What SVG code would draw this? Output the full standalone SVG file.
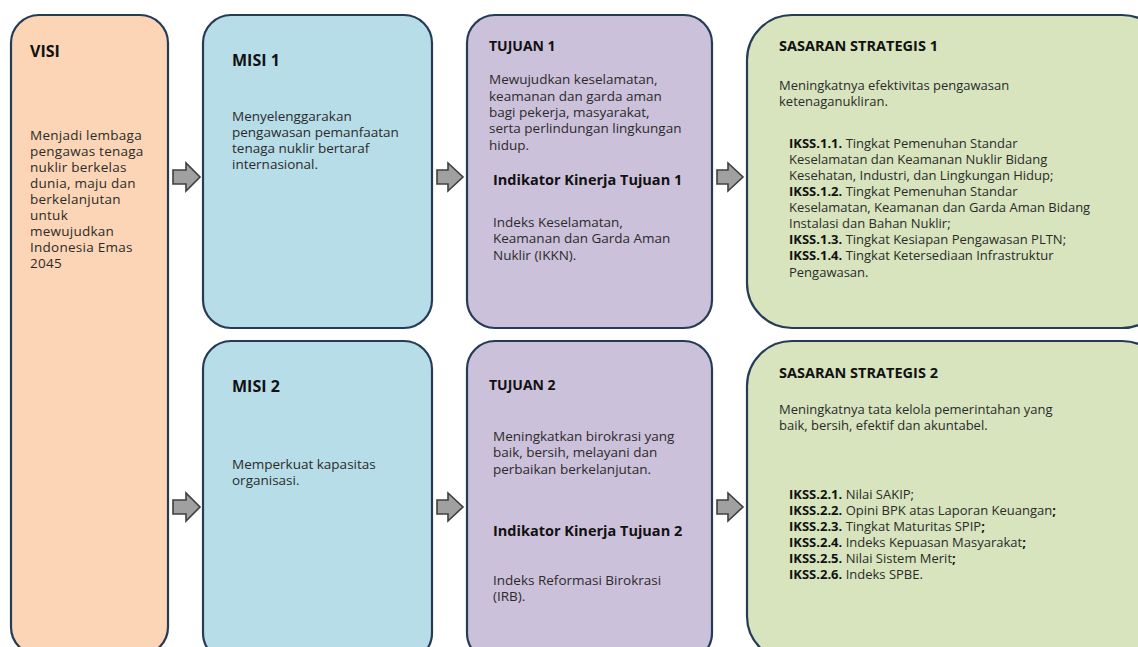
<svg xmlns="http://www.w3.org/2000/svg" width="1138" height="647" viewBox="0 0 1138 647">
<style>
.box{stroke:#263b55;stroke-width:2.2}
.visi{fill:#fbd5b5}
.misi{fill:#b7dde8}
.tuj{fill:#ccc1da}
.sas{fill:#d7e4bd}
text{font-family:"Open Sans","DejaVu Sans",sans-serif;font-size:13px;fill:#2b2b2b}
.vb{font-size:13.5px;letter-spacing:0.25px}
.mb{font-size:13.5px}
.h{font-weight:bold;fill:#111;font-size:14px}
.hl{font-weight:bold;fill:#111;font-size:16px}
.hs{font-weight:bold;fill:#111;font-size:14.5px}
.h2{font-weight:bold;fill:#111;font-size:14.5px}
.b{font-weight:bold;fill:#111}
.arr{fill:#a0a0a0;stroke:#3f3f3f;stroke-width:1.6;stroke-linejoin:miter}
</style>
<rect width="1138" height="647" fill="#ffffff"/>
<g id="visi">
<rect class="box visi" x="11" y="15" width="157" height="640" rx="28"/>
<text class="hl" x="30" y="57">VISI</text>
<text class="vb" x="30" y="140">Menjadi lembaga</text>
<text class="vb" x="30" y="156">pengawas tenaga</text>
<text class="vb" x="30" y="172">nuklir berkelas</text>
<text class="vb" x="30" y="188">dunia, maju dan</text>
<text class="vb" x="30" y="204">berkelanjutan</text>
<text class="vb" x="30" y="220">untuk</text>
<text class="vb" x="30" y="236">mewujudkan</text>
<text class="vb" x="30" y="252">Indonesia Emas</text>
<text class="vb" x="30" y="268">2045</text>
</g>
<g id="misi1">
<rect class="box misi" x="203" y="15" width="229" height="313" rx="28"/>
<text class="hl" x="232" y="66">MISI 1</text>
<text class="mb" x="232" y="121">Menyelenggarakan</text>
<text class="mb" x="232" y="137">pengawasan pemanfaatan</text>
<text class="mb" x="232" y="153">tenaga nuklir bertaraf</text>
<text class="mb" x="232" y="169">internasional.</text>
</g>
<g id="misi2">
<rect class="box misi" x="203" y="341" width="229" height="320" rx="28"/>
<text class="hl" x="232" y="392">MISI 2</text>
<text class="mb" x="232" y="469">Memperkuat kapasitas</text>
<text class="mb" x="232" y="485">organisasi.</text>
</g>
<g id="tujuan1">
<rect class="box tuj" x="467" y="15" width="245" height="313" rx="28"/>
<text class="h" x="489" y="51">TUJUAN 1</text>
<text class="mb" x="489" y="84">Mewujudkan keselamatan,</text>
<text class="mb" x="489" y="101">keamanan dan garda aman</text>
<text class="mb" x="489" y="117">bagi pekerja, masyarakat,</text>
<text class="mb" x="489" y="133">serta perlindungan lingkungan</text>
<text class="mb" x="489" y="150">hidup.</text>
<text class="h2" x="493" y="185">Indikator Kinerja Tujuan 1</text>
<text class="mb" x="493" y="227">Indeks Keselamatan,</text>
<text class="mb" x="493" y="243">Keamanan dan Garda Aman</text>
<text class="mb" x="493" y="260">Nuklir (IKKN).</text>
</g>
<g id="tujuan2">
<rect class="box tuj" x="467" y="341" width="245" height="320" rx="28"/>
<text class="h" x="489" y="390">TUJUAN 2</text>
<text class="mb" x="493" y="441">Meningkatkan birokrasi yang</text>
<text class="mb" x="493" y="457">baik, bersih, melayani dan</text>
<text class="mb" x="493" y="474">perbaikan berkelanjutan.</text>
<text class="h2" x="493" y="536">Indikator Kinerja Tujuan 2</text>
<text class="mb" x="493" y="585">Indeks Reformasi Birokrasi</text>
<text class="mb" x="493" y="601">(IRB).</text>
</g>
<g id="sasaran1">
<rect class="box sas" x="747" y="15" width="420" height="313" rx="45"/>
<text class="hs" x="779" y="51">SASARAN STRATEGIS 1</text>
<text x="779" y="90">Meningkatnya efektivitas pengawasan</text>
<text x="779" y="106">ketenaganukliran.</text>
<text x="789" y="148"><tspan class="b">IKSS.1.1.</tspan> Tingkat Pemenuhan Standar</text>
<text x="789" y="164">Keselamatan dan Keamanan Nuklir Bidang</text>
<text x="789" y="180">Kesehatan, Industri, dan Lingkungan Hidup;</text>
<text x="789" y="196"><tspan class="b">IKSS.1.2.</tspan> Tingkat Pemenuhan Standar</text>
<text x="789" y="212">Keselamatan, Keamanan dan Garda Aman Bidang</text>
<text x="789" y="228">Instalasi dan Bahan Nuklir;</text>
<text x="789" y="244"><tspan class="b">IKSS.1.3.</tspan> Tingkat Kesiapan Pengawasan PLTN;</text>
<text x="789" y="260"><tspan class="b">IKSS.1.4.</tspan> Tingkat Ketersediaan Infrastruktur</text>
<text x="789" y="277">Pengawasan.</text>
</g>
<g id="sasaran2">
<rect class="box sas" x="747" y="341" width="420" height="320" rx="45"/>
<text class="hs" x="779" y="378">SASARAN STRATEGIS 2</text>
<text x="779" y="414">Meningkatnya tata kelola pemerintahan yang</text>
<text x="779" y="430">baik, bersih, efektif dan akuntabel.</text>
<text x="789" y="499"><tspan class="b">IKSS.2.1.</tspan> Nilai SAKIP;</text>
<text x="789" y="515"><tspan class="b">IKSS.2.2.</tspan> Opini BPK atas Laporan Keuangan<tspan class="b">;</tspan></text>
<text x="789" y="531"><tspan class="b">IKSS.2.3.</tspan> Tingkat Maturitas SPIP<tspan class="b">;</tspan></text>
<text x="789" y="547"><tspan class="b">IKSS.2.4.</tspan> Indeks Kepuasan Masyarakat<tspan class="b">;</tspan></text>
<text x="789" y="563"><tspan class="b">IKSS.2.5.</tspan> Nilai Sistem Merit<tspan class="b">;</tspan></text>
<text x="789" y="579"><tspan class="b">IKSS.2.6.</tspan> Indeks SPBE.</text>
</g>
<g id="connectors">
<path class="arr" d="M173,170 H186 V163 L200,177 L186,191 V184 H173 Z"/>
<path class="arr" d="M173,500 H186 V493 L200,507 L186,521 V514 H173 Z"/>
<path class="arr" d="M437,170 H448 V163 L463,177 L448,191 V184 H437 Z"/>
<path class="arr" d="M437,500 H448 V493 L463,507 L448,521 V514 H437 Z"/>
<path class="arr" d="M717,170 H728 V163 L743,177 L728,191 V184 H717 Z"/>
<path class="arr" d="M717,500 H728 V493 L743,507 L728,521 V514 H717 Z"/>
</g>
</svg>
